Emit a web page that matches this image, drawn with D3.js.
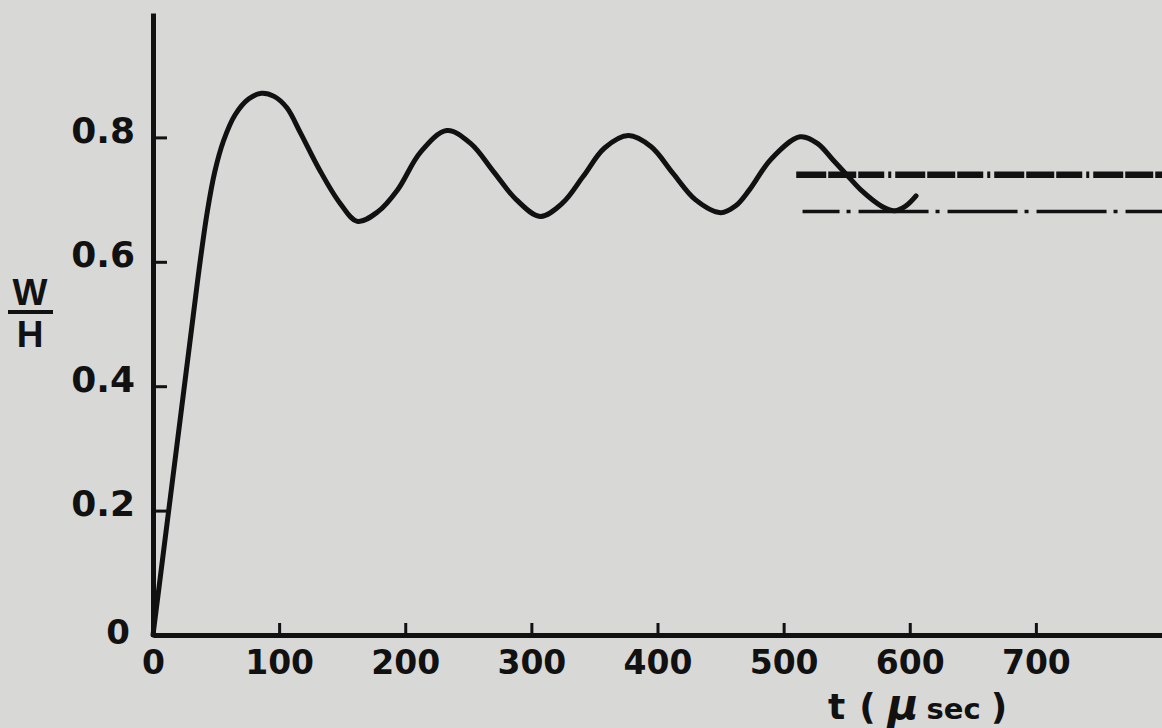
<!DOCTYPE html>
<html>
<head>
<meta charset="utf-8">
<script src="https://cdn.jsdelivr.net/npm/d3@7"></script>
<style>
  html, body { margin: 0; padding: 0; background: #d8d8d6; }
  svg { display: block; }
  .axis path, .axis line { stroke: #111; }
  .axis text { fill: #111; font-family: "DejaVu Sans", sans-serif; font-weight: bold; }
</style>
</head>
<body>
<div id="chart"></div>
<script>
// W/H response
const tValues = [0, 12, 24, 32, 37, 43, 49, 56, 65, 76, 86, 96, 106, 117, 132, 148, 162, 178, 194, 212,
  233, 252, 270, 288, 307, 325, 341, 358, 377, 395, 412, 430, 450, 462, 473, 490, 513, 527, 539, 550,
  561, 578, 588, 597, 605];
const whValues = [0, 0.193, 0.386, 0.515, 0.595, 0.68, 0.745, 0.795, 0.836, 0.862, 0.871, 0.866, 0.848, 0.807, 0.748, 0.695, 0.665, 0.680, 0.716, 0.776,
  0.811, 0.790, 0.745, 0.700, 0.673, 0.695, 0.737, 0.783, 0.803, 0.785, 0.743, 0.700, 0.679, 0.690, 0.716, 0.765, 0.801, 0.790, 0.764, 0.740,
  0.716, 0.689, 0.682, 0.690, 0.706];

// the two horizontal reference levels on the right
const refStart = [510, 515];
const refLevel = [0.740, 0.681];

const xTicks = [0, 100, 200, 300, 400, 500, 600, 700];
const yTicks = [0.2, 0.4, 0.6, 0.8];

const width = 1162, height = 728;
const ink = "#111";

const svg = d3.select("#chart")
  .append("svg")
  .attr("width", width)
  .attr("height", height);

const x = d3.scaleLinear().domain([0, 800]).range([153, 1162]);
const y = d3.scaleLinear().domain([0, 1]).range([635, 13]);

// x axis (ticks point up into the plot)
const xAxis = svg.append("g")
  .attr("class", "axis")
  .attr("transform", "translate(0," + y(0) + ")")
  .call(d3.axisBottom(x).tickValues(xTicks).tickSize(-12).tickSizeOuter(0).tickPadding(16));
xAxis.select(".domain").attr("stroke-width", 5);
xAxis.selectAll(".tick line").attr("stroke-width", 3);
xAxis.selectAll("text").style("font-size", "33px");

// y axis
const yAxis = svg.append("g")
  .attr("class", "axis")
  .attr("transform", "translate(" + x(0) + ",0)")
  .call(d3.axisLeft(y).tickValues(yTicks).tickSize(-14).tickSizeOuter(0).tickPadding(18)
    .tickFormat(d3.format(".1f")));
yAxis.select(".domain").attr("stroke-width", 5);
yAxis.selectAll(".tick line").attr("stroke-width", 3);
yAxis.selectAll("text").style("font-size", "36px").attr("dy", "0.14em");

// the lone "0" at the origin
svg.append("text")
  .attr("x", 118)
  .attr("y", y(0) + 9)
  .attr("text-anchor", "middle")
  .style("font-family", "DejaVu Sans, sans-serif")
  .style("font-weight", "bold")
  .style("font-size", "34px")
  .attr("fill", ink)
  .text("0");

// y label W over H
const yl = svg.append("g").attr("transform", "translate(30,0)")
  .style("font-family", "Liberation Sans, Arial, sans-serif")
  .style("font-weight", "bold")
  .attr("fill", ink);
yl.append("text").attr("y", 305).attr("text-anchor", "middle").style("font-size", "37px").text("W");
yl.append("line").attr("x1", -22).attr("x2", 23).attr("y1", 312).attr("y2", 312)
  .attr("stroke", ink).attr("stroke-width", 4);
yl.append("text").attr("y", 347).attr("text-anchor", "middle").style("font-size", "37px").text("H");

// x label
const xl = svg.append("text")
  .attr("x", 828)
  .attr("y", 719)
  .attr("fill", ink)
  .style("font-family", "DejaVu Sans, sans-serif")
  .style("font-weight", "bold");
xl.append("tspan").style("font-size", "36px").text("t");
xl.append("tspan").style("font-size", "36px").attr("dx", 14).text("(");
xl.append("tspan").style("font-size", "42px").style("font-style", "italic").attr("dx", 12).text("μ");
xl.append("tspan").style("font-size", "29px").attr("dx", 8).text("sec");
xl.append("tspan").style("font-size", "36px").attr("dx", 10).text(")");

// response curve
const line = d3.line()
  .x((d, i) => x(tValues[i]))
  .y(d => y(d))
  .curve(d3.curveCatmullRom.alpha(0.5));

svg.append("path")
  .datum(whValues)
  .attr("fill", "none")
  .attr("stroke", ink)
  .attr("stroke-width", 5)
  .attr("stroke-linecap", "round")
  .attr("stroke-linejoin", "round")
  .attr("d", line);

// reference lines: heavy dashed and dash-dot
const refStyles = [
  { w: 6.5, dash: "30,2,28,2,26,4,3,4", off: 0 },
  { w: 3.5, dash: "70,7,4,8", off: 33 }
];
refLevel.forEach((lv, i) => {
  svg.append("line")
    .attr("x1", x(refStart[i]))
    .attr("x2", width)
    .attr("y1", y(lv))
    .attr("y2", y(lv))
    .attr("stroke", ink)
    .attr("stroke-width", refStyles[i].w)
    .attr("stroke-dasharray", refStyles[i].dash)
    .attr("stroke-dashoffset", refStyles[i].off);
});
</script>
</body>
</html>
